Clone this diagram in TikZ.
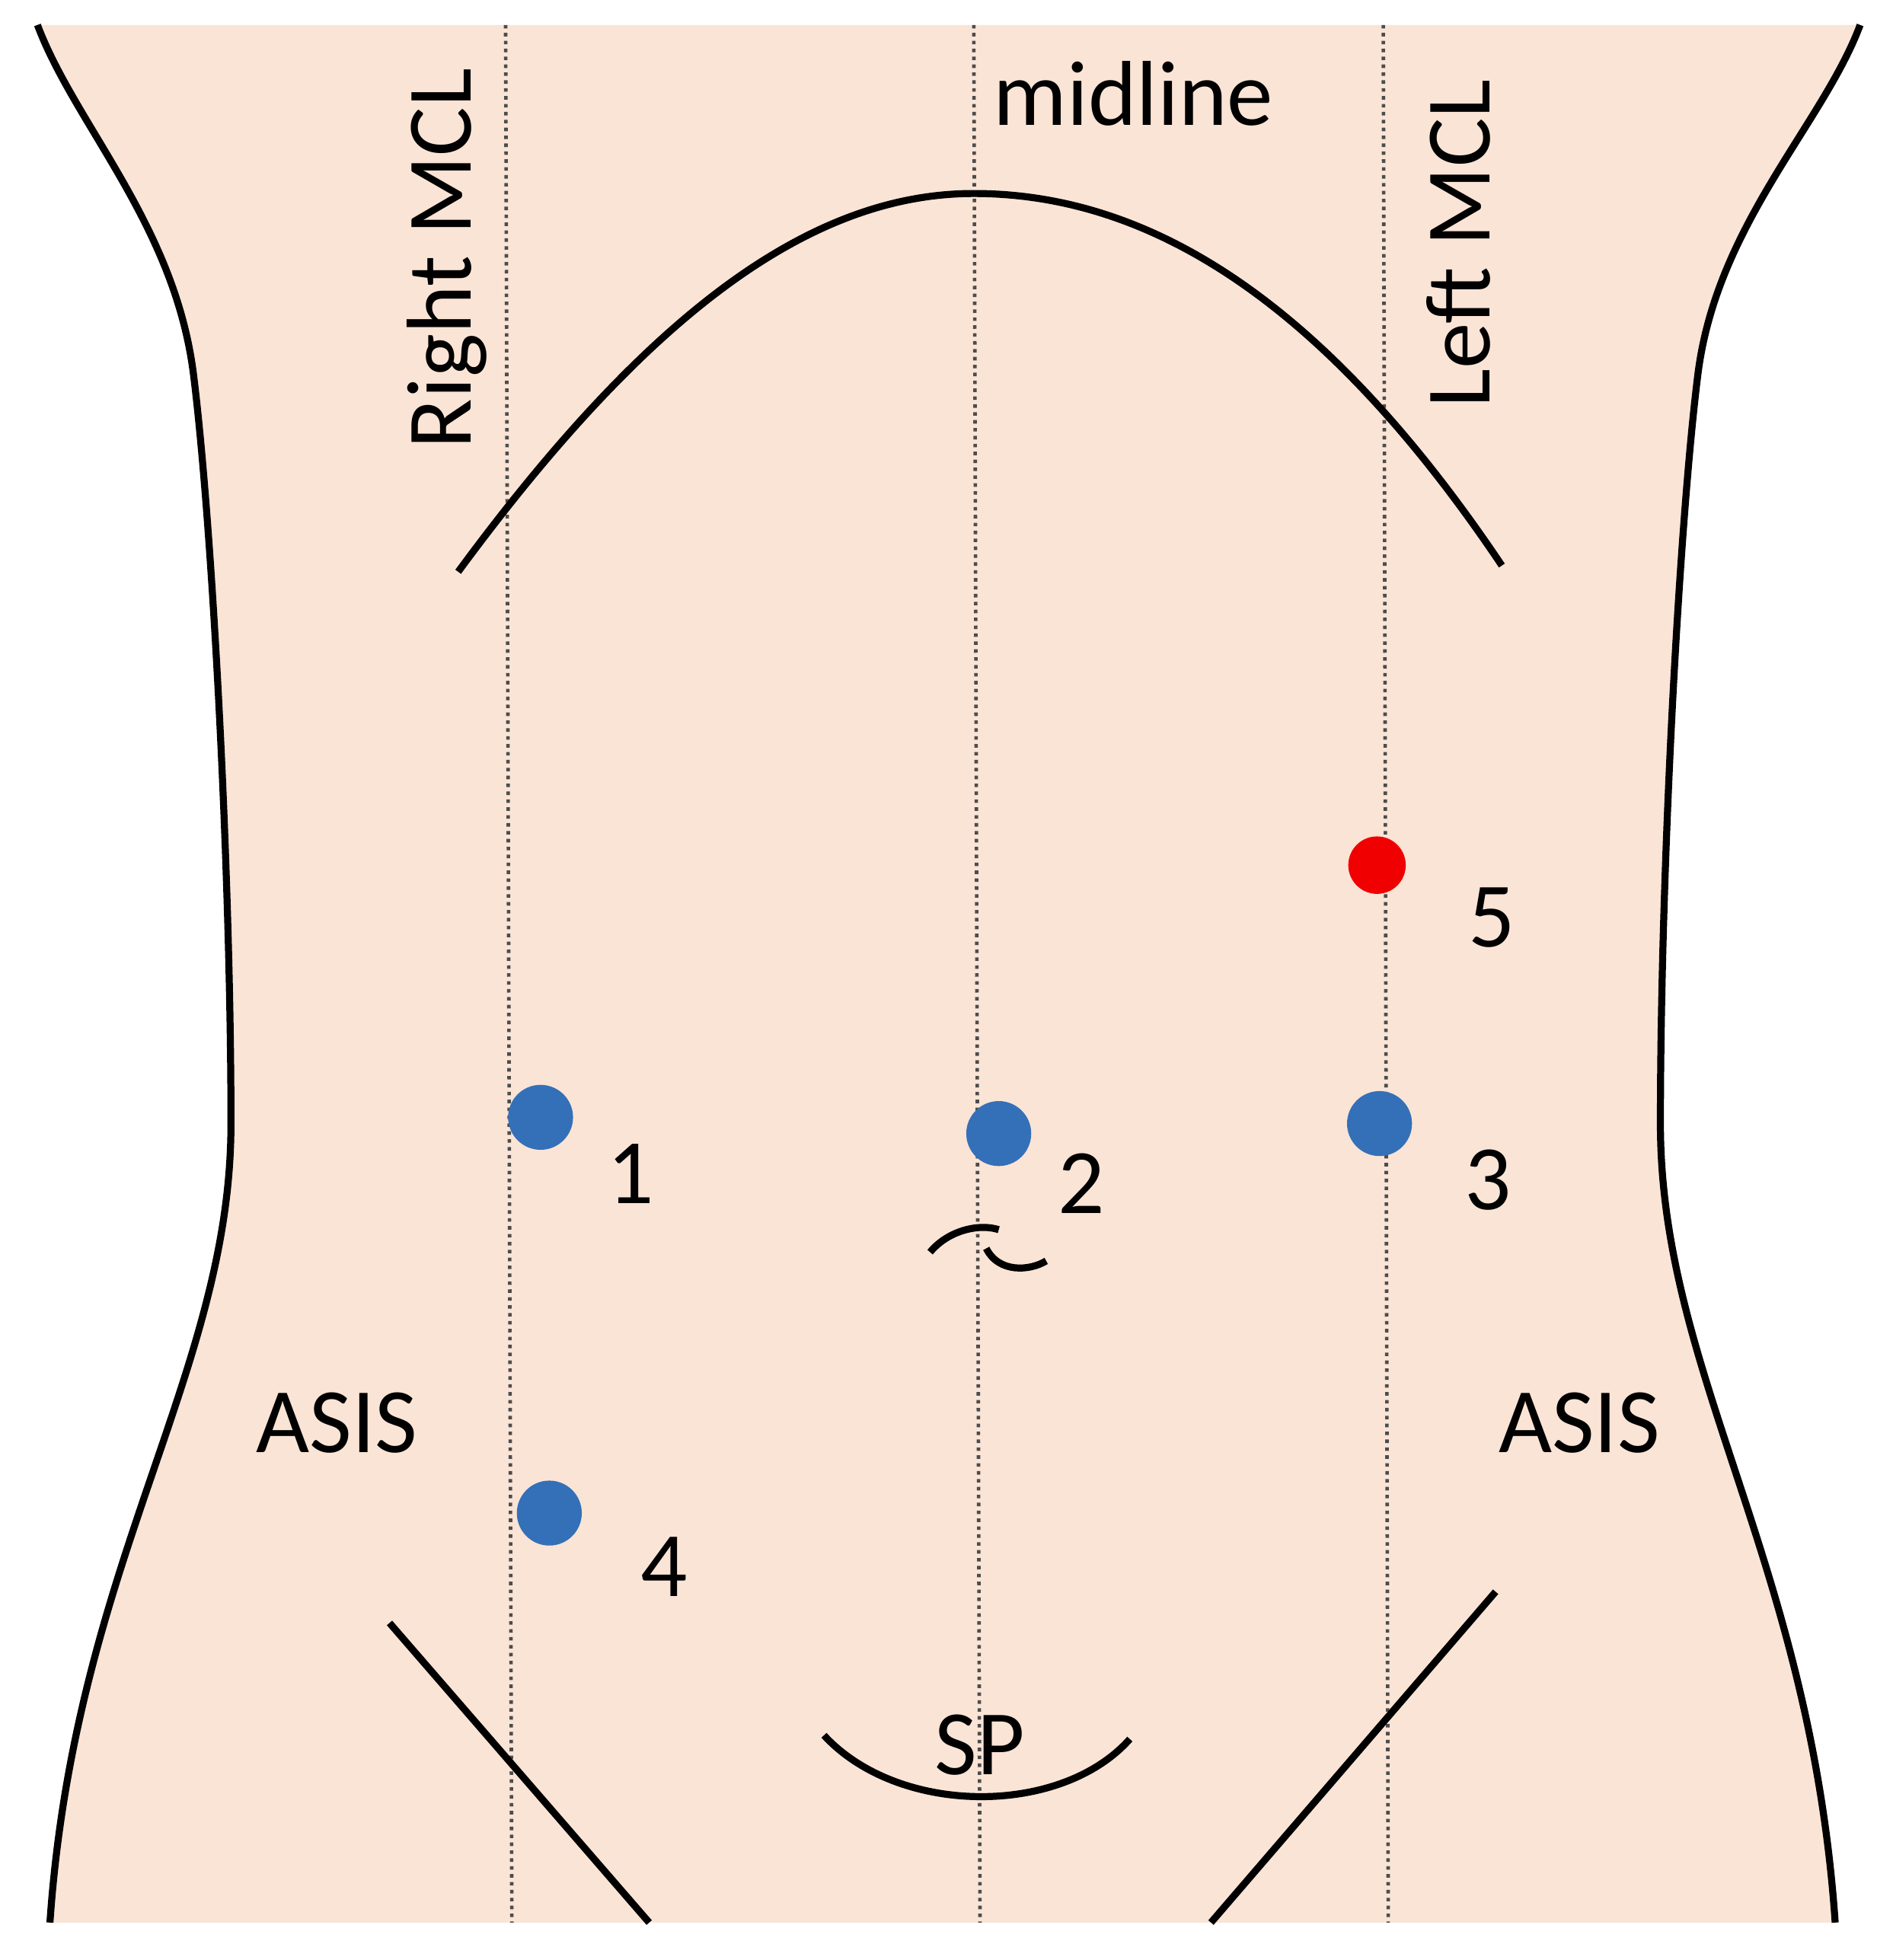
\documentclass[tikz,border=0pt]{standalone}
\usepackage{fontspec}
\setmainfont{Carlito}
\definecolor{skin}{RGB}{250,228,214}
\definecolor{dotblue}{RGB}{52,112,184}
\definecolor{dotred}{RGB}{240,0,0}
\begin{document}
\begin{tikzpicture}[x=0.01cm,y=-0.01cm,
  lbl/.style={font=\fontsize{21}{24}\selectfont},
  mcl/.style={densely dotted,line width=0.8pt,black!70},
  anat/.style={line width=1.6pt},
  spot/.style={circle,minimum size=0.52cm,inner sep=0,fill=dotblue}]
\useasboundingbox[fill=white] (0,0) rectangle (1516,1570);
\fill[skin] (30,20) .. controls (60,100) and (140,180) .. (155,300)
  .. controls (170,420) and (185,700) .. (185,900)
  .. controls (185,1100) and (60,1250) .. (40,1540) -- (1470,1540)
  .. controls (1450,1250) and (1330,1100) .. (1330,900)
  .. controls (1330,700) and (1345,420) .. (1360,300)
  .. controls (1375,180) and (1460,100) .. (1490,20) -- cycle;
\draw[anat] (30,20) .. controls (60,100) and (140,180) .. (155,300)
  .. controls (170,420) and (185,700) .. (185,900)
  .. controls (185,1100) and (60,1250) .. (40,1540);
\draw[anat] (1490,20) .. controls (1460,100) and (1375,180) .. (1360,300)
  .. controls (1345,420) and (1330,700) .. (1330,900)
  .. controls (1330,1100) and (1450,1250) .. (1470,1540);
\coordinate (r1) at (405,20); \coordinate (r2) at (410,1540);
\coordinate (m1) at (780,20); \coordinate (m2) at (785,1540);
\coordinate (l1) at (1108,20); \coordinate (l2) at (1112,1540);
\draw[mcl] (r1) -- (r2); \draw[mcl] (m1) -- (m2); \draw[mcl] (l1) -- (l2);
\draw[anat] (367,458) .. controls (520,250) and (650,155) .. (780,155)
  .. controls (920,155) and (1060,240) .. (1203,453);
\draw[anat] (745,1003) .. controls (760,985) and (785,980) .. (800,985);
\draw[anat] (790,1000) .. controls (800,1020) and (825,1018) .. (838,1010);
\draw[anat] (312,1300) -- (520,1540);
\draw[anat] (1198,1275) -- (970,1540);
\draw[anat] (660,1390) .. controls (720,1455) and (850,1455) .. (905,1393);
\node[spot] (d1) at (433,895) {};
\node[spot] (d2) at (800,908) {};
\node[spot] (d3) at (1105,900) {};
\node[spot] (d4) at (440,1212) {};
\node[spot,fill=dotred,minimum size=0.46cm] (d5) at (1103,693) {};
\node[lbl] (t1) at (505,940) {1};
\node[lbl] (t2) at (866,948) {2};
\node[lbl] (t3) at (1192,945) {3};
\node[lbl] (t4) at (532,1255) {4};
\node[lbl] (t5) at (1195,735) {5};
\node[lbl] (mid) at (908,75) {midline};
\node[lbl,rotate=90] (rm) at (358,207) {Right MCL};
\node[lbl,rotate=90] (lm) at (1168,195) {Left MCL};
\node[lbl] (a1) at (270,1140) {ASIS};
\node[lbl] (a2) at (1265,1140) {ASIS};
\node[lbl] (sp) at (785,1398) {SP};
\end{tikzpicture}
\end{document}
